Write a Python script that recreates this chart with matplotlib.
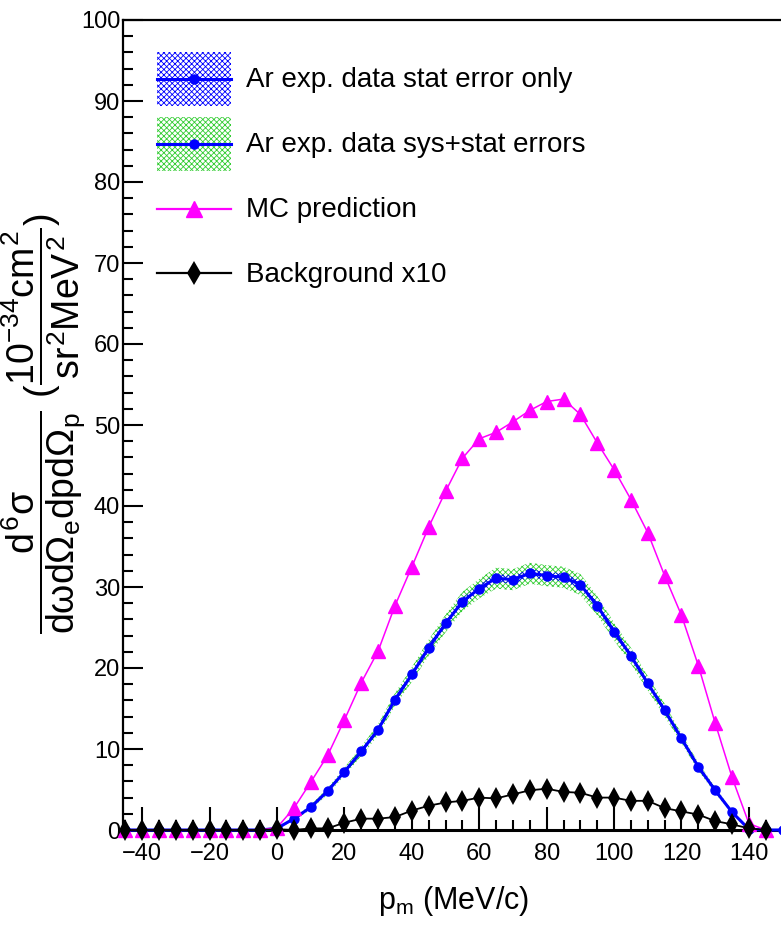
import numpy as np
import matplotlib
matplotlib.use('Agg')
import matplotlib.pyplot as plt
from matplotlib.patches import Patch
from matplotlib.lines import Line2D
from matplotlib.legend_handler import HandlerLine2D
from matplotlib.ticker import MultipleLocator

plt.rcParams['font.family'] = ['Liberation Sans', 'DejaVu Sans']
plt.rcParams['mathtext.fontset'] = 'custom'
plt.rcParams['mathtext.rm'] = 'Liberation Sans'
plt.rcParams['mathtext.it'] = 'Liberation Sans'
plt.rcParams['mathtext.bf'] = 'Liberation Sans:bold'
plt.rcParams['hatch.linewidth'] = 0.6

# missing momentum bins (MeV/c)
pm = [-45, -40, -35, -30, -25, -20, -15, -10, -5, 0, 5, 10, 15, 20, 25, 30, 35, 40, 45,
      50, 55, 60, 65, 70, 75, 80, 85, 90, 95, 100, 105, 110, 115, 120, 125, 130, 135, 140, 145]

# Ar data (the blue curve runs on along zero up to 150)
pm_data = pm + [150]
ar_xsec = [0, 0, 0, 0, 0, 0, 0, 0, 0, 0.2, 1.4, 2.8, 4.8, 7.2, 9.7, 12.4, 16.1, 19.2, 22.5,
           25.5, 28.2, 29.8, 31.1, 30.9, 31.7, 31.4, 31.2, 30.3, 27.7, 24.5, 21.5, 18.1, 14.8,
           11.3, 7.8, 4.9, 2.2, 0.1, 0, 0]
ar_stat = [0, 0, 0, 0, 0, 0, 0, 0, 0, 0.05, 0.1, 0.15, 0.2, 0.25, 0.3, 0.3, 0.35, 0.4, 0.4,
           0.45, 0.45, 0.5, 0.5, 0.5, 0.5, 0.5, 0.5, 0.5, 0.45, 0.45, 0.4, 0.4, 0.35,
           0.3, 0.25, 0.2, 0.15, 0.05, 0, 0]
ar_tot = [0, 0, 0, 0, 0, 0, 0, 0, 0, 0.1, 0.2, 0.3, 0.4, 0.5, 0.6, 0.7, 0.8, 0.9, 1.0,
          1.1, 1.2, 1.2, 1.3, 1.3, 1.3, 1.3, 1.3, 1.3, 1.2, 1.1, 1.0, 0.9, 0.8,
          0.6, 0.5, 0.4, 0.2, 0.1, 0, 0]

mc_pred = [0, 0, 0, 0, 0, 0, 0, 0, 0, 0.3, 2.7, 5.9, 9.2, 13.6, 18.2, 22.1, 27.7, 32.5, 37.4,
           41.8, 45.9, 48.3, 49.1, 50.4, 51.8, 52.9, 53.2, 51.3, 47.8, 44.5, 40.8, 36.7, 31.4,
           26.5, 20.3, 13.2, 6.5, 0.8, 0]

bkg_x10 = [0, 0, 0, 0, 0, 0, 0, 0, 0, 0.1, 0.0, 0.2, 0.2, 0.9, 1.4, 1.4, 1.6, 2.4, 3.0,
           3.4, 3.6, 4.0, 3.9, 4.4, 4.9, 5.1, 4.7, 4.6, 4.0, 4.0, 3.6, 3.6, 2.7,
           2.3, 1.9, 1.1, 0.7, 0.2, 0]


class CenteredLine(HandlerLine2D):
    # put the legend line through the middle of the band box
    def create_artists(self, legend, orig_handle, xdescent, ydescent, width, height,
                       fontsize, trans):
        artists = super().create_artists(legend, orig_handle, xdescent, ydescent,
                                         width, height, fontsize, trans)
        for a in artists:
            a.set_ydata(np.asarray(a.get_ydata()) - ydescent / 2)
        return artists


xd = np.array(pm_data)
yd = np.array(ar_xsec)
es = np.array(ar_stat)
et = np.array(ar_tot)

fig = plt.figure(figsize=(7.81, 9.30), dpi=100)
ax = fig.add_axes([123 / 781, 100 / 930, 659.6 / 781, 810 / 930])

ax.fill_between(xd, yd - et, yd + et, facecolor='none', edgecolor='#33cc33',
                hatch='xxxxxx', linewidth=0, zorder=1)
ax.fill_between(xd, yd - es, yd + es, facecolor='none', edgecolor='#0000ff',
                hatch='xxxxxx', linewidth=0, zorder=2)
ax.plot(xd, yd, color='#0000ff', lw=2.2, marker='o', ms=6.5, zorder=3, clip_on=False)
ax.plot(pm, mc_pred, color='#ff00ff', lw=1.1, marker='^', ms=10, zorder=4, clip_on=False)
ax.plot(pm, bkg_x10, color='black', lw=1.3, marker='d', ms=11, markeredgewidth=0,
        zorder=5, clip_on=False)

ax.set_xlim(-45.7, 150)
ax.set_ylim(0, 100)
ax.xaxis.set_major_locator(MultipleLocator(20))
ax.xaxis.set_minor_locator(MultipleLocator(5))
ax.yaxis.set_major_locator(MultipleLocator(10))
ax.yaxis.set_minor_locator(MultipleLocator(2))
ax.tick_params(which='both', direction='in', width=1.5, labelsize=17, top=False, right=False)
ax.tick_params(axis='x', which='major', length=16.5, pad=9)
ax.tick_params(axis='x', which='minor', length=7.5)
ax.tick_params(axis='y', which='major', length=14.5, pad=2)
ax.tick_params(axis='y', which='minor', length=7.5)
ax.spines['right'].set_visible(False)
ax.spines['top'].set_linewidth(1.6)
ax.spines['left'].set_linewidth(1.6)
ax.spines['bottom'].set_linewidth(2.2)

fig.text(454 / 781, 1 - 901 / 930, r'p$_{\mathregular{m}}$ (MeV/c)', fontsize=22,
         ha='center', va='center')
fig.text(44 / 781, 1 - 423 / 930,
         r'$\dfrac{d^6\sigma}{d\omega d\Omega_e dp d\Omega_p}$ $(\dfrac{10^{-34}cm^2}{sr^2MeV^2})$',
         fontsize=27, rotation=90, ha='center', va='center')

h1 = (Patch(facecolor='none', edgecolor='#0000ff', hatch='xxxxxx', linewidth=0),
      Line2D([], [], color='#0000ff', lw=2.2, marker='o', ms=6.5))
h2 = (Patch(facecolor='none', edgecolor='#33cc33', hatch='xxxxxx', linewidth=0),
      Line2D([], [], color='#0000ff', lw=2.2, marker='o', ms=6.5))
h3 = Line2D([], [], color='#ff00ff', lw=1.6, marker='^', ms=11)
h4 = Line2D([], [], color='black', lw=1.6, marker='d', ms=12, markeredgewidth=0)
fig.legend([h1, h2, h3, h4],
           ['Ar exp. data stat error only', 'Ar exp. data sys+stat errors',
            'MC prediction', 'Background x10'],
           handler_map={Line2D: CenteredLine()},
           loc='upper left', bbox_to_anchor=(157 / 781, 1 - 52 / 930),
           frameon=False, fontsize=20, borderpad=0, borderaxespad=0,
           handlelength=2.65, handleheight=2.6, handletextpad=0.55, labelspacing=0.4)

fig.savefig('out.png', dpi=100)
